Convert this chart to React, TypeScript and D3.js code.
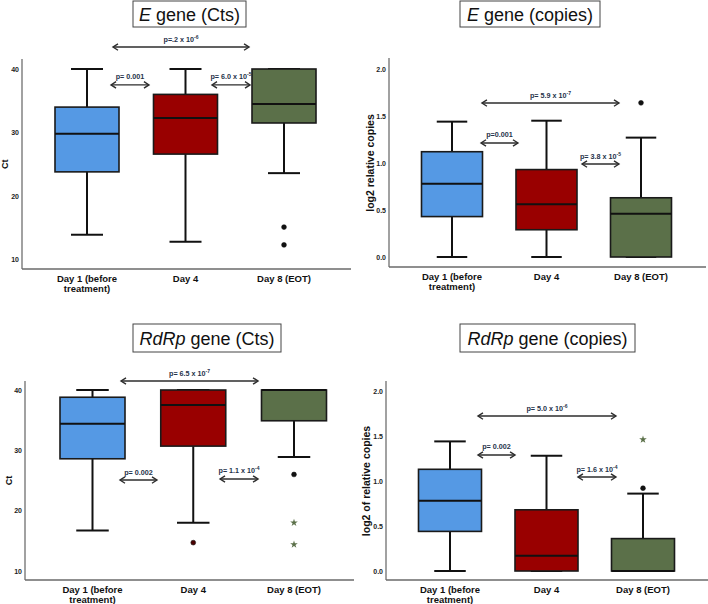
import React from "react";
import * as d3 from "d3";

// ---------- data ----------
const categories = ["Day 1 (before treatment)", "Day 4", "Day 8 (EOT)"];
const categoryLines = [["Day 1 (before", "treatment)"], ["Day 4"], ["Day 8 (EOT)"]];
const boxColors = ["#5599e4", "#990000", "#5b7049"];

// [min whisker, Q1, median, Q3, max whisker]
const eCtsBoxes = [
  [13.9, 23.8, 29.8, 34.0, 40.0],
  [12.8, 26.6, 32.3, 36.0, 40.0],
  [23.6, 31.5, 34.5, 40.0, 40.0],
];
const eCtsOutliers = [[], [], [15.1, 12.3]];
const eCtsStars: number[][] = [[], [], []];

const eCopiesBoxes = [
  [0.0, 0.43, 0.78, 1.12, 1.44],
  [0.0, 0.29, 0.56, 0.93, 1.45],
  [0.0, 0.0, 0.46, 0.63, 1.27],
];
const eCopiesOutliers = [[], [], [1.64]];
const eCopiesStars: number[][] = [[], [], []];

const rdrpCtsBoxes = [
  [16.7, 28.6, 34.4, 38.8, 40.0],
  [18.0, 30.7, 37.5, 40.0, 40.0],
  [28.9, 34.9, 40.0, 40.0, 40.0],
];
const rdrpCtsOutliers = [[], [14.7], [26.0]];
const rdrpCtsStars = [[], [], [18.0, 14.4]];

const rdrpCopiesBoxes = [
  [0.0, 0.44, 0.78, 1.13, 1.44],
  [0.0, 0.0, 0.17, 0.68, 1.28],
  [0.0, 0.0, 0.0, 0.36, 0.86],
];
const rdrpCopiesOutliers = [[], [], [0.92]];
const rdrpCopiesStars = [[], [], [1.46]];

const ctTicks = [10, 20, 30, 40];
const copiesTicks = [0, 0.5, 1.0, 1.5, 2.0];

// significance annotations: x1/x2 in category-index units, y in data units
const eCtsSig = [
  { x1: 0.264, x2: 1.645, y: 43.46, p: "p=.2 x 10", exp: "-6" },
  { x1: 0.244, x2: 0.629, y: 37.5, p: "p= 0.001", exp: "" },
  { x1: 1.269, x2: 1.655, y: 37.5, p: "p= 6.0 x 10", exp: "-5" },
];
const eCopiesSig = [
  { x1: 0.317, x2: 1.767, y: 1.638, p: "p= 5.9 x 10", exp: "-7" },
  { x1: 0.307, x2: 0.698, y: 1.213, p: "p=0.001", exp: "" },
  { x1: 1.376, x2: 1.767, y: 0.989, p: "p= 3.8 x 10", exp: "-5" },
];
const rdrpCtsSig = [
  { x1: 0.283, x2: 1.643, y: 41.49, p: "p= 6.5 x 10", exp: "-7" },
  { x1: 0.273, x2: 0.64, y: 25.08, p: "p= 0.002", exp: "" },
  { x1: 1.266, x2: 1.643, y: 25.25, p: "p= 1.1 x 10", exp: "-4" },
];
const rdrpCopiesSig = [
  { x1: 0.29, x2: 1.72, y: 1.722, p: "p= 5.0 x 10", exp: "-6" },
  { x1: 0.29, x2: 0.674, y: 1.289, p: "p= 0.002", exp: "" },
  { x1: 1.326, x2: 1.72, y: 1.044, p: "p= 1.6 x 10", exp: "-4" },
];

// ---------- layout ----------
const FONT = "'Liberation Sans', Arial, Helvetica, sans-serif";

type Sig = { x1: number; x2: number; y: number; p: string; exp: string };
type PanelCfg = {
  titleItalic: string;
  titleRest: string;
  titleBox: [number, number, number, number];
  axisX: number;
  axisTop: number;
  axisBottom: number;
  axisRight: number;
  yDomain: [number, number];
  yRange: [number, number];
  centers: [number, number];
  boxWidth: number;
  yLabel: string;
  yLabelX: number;
  ticks: number[];
  fmt: (v: number) => string;
  boxes: number[][];
  outliers: number[][];
  stars: number[][];
  sig: Sig[];
  outlierFill: string[];
};

const panels: PanelCfg[] = [
  {
    titleItalic: "E",
    titleRest: " gene (Cts)",
    titleBox: [133, 1, 113, 26],
    axisX: 22,
    axisTop: 59,
    axisBottom: 269,
    axisRight: 351,
    yDomain: [10, 40],
    yRange: [259.5, 69],
    centers: [87, 284],
    boxWidth: 64,
    yLabel: "Ct",
    yLabelX: 8,
    ticks: ctTicks,
    fmt: d3.format("d"),
    boxes: eCtsBoxes,
    outliers: eCtsOutliers,
    stars: eCtsStars,
    sig: eCtsSig,
    outlierFill: ["#111", "#111", "#111"],
  },
  {
    titleItalic: "E",
    titleRest: " gene (copies)",
    titleBox: [460, 1, 140, 26],
    axisX: 389,
    axisTop: 58,
    axisBottom: 267,
    axisRight: 706,
    yDomain: [0, 2],
    yRange: [257, 69],
    centers: [452, 641],
    boxWidth: 61,
    yLabel: "log2 relative copies",
    yLabelX: 374,
    ticks: copiesTicks,
    fmt: d3.format(".1f"),
    boxes: eCopiesBoxes,
    outliers: eCopiesOutliers,
    stars: eCopiesStars,
    sig: eCopiesSig,
    outlierFill: ["#111", "#111", "#111"],
  },
  {
    titleItalic: "RdRp",
    titleRest: " gene (Cts)",
    titleBox: [133, 324, 148, 28],
    axisX: 25,
    axisTop: 381,
    axisBottom: 580,
    axisRight: 354,
    yDomain: [10, 40],
    yRange: [571, 390],
    centers: [92.5, 294],
    boxWidth: 65,
    yLabel: "Ct",
    yLabelX: 12,
    ticks: ctTicks,
    fmt: d3.format("d"),
    boxes: rdrpCtsBoxes,
    outliers: rdrpCtsOutliers,
    stars: rdrpCtsStars,
    sig: rdrpCtsSig,
    outlierFill: ["#111", "#4a0000", "#111"],
  },
  {
    titleItalic: "RdRp",
    titleRest: " gene (copies)",
    titleBox: [460, 324, 175, 28],
    axisX: 386,
    axisTop: 381,
    axisBottom: 580,
    axisRight: 708,
    yDomain: [0, 2],
    yRange: [571, 391],
    centers: [450, 643],
    boxWidth: 63,
    yLabel: "log2 of relative copies",
    yLabelX: 370,
    ticks: copiesTicks,
    fmt: d3.format(".1f"),
    boxes: rdrpCopiesBoxes,
    outliers: rdrpCopiesOutliers,
    stars: rdrpCopiesStars,
    sig: rdrpCopiesSig,
    outlierFill: ["#111", "#111", "#111"],
  },
];

const starPath = d3.symbol().type(d3.symbolStar).size(18)() as string;

function Arrow({ x1, x2, y }: { x1: number; x2: number; y: number }) {
  const h = 5;
  const v = 3.2;
  return (
    <g stroke="#2d2d2d" strokeWidth={1.4} fill="none">
      <line x1={x1} y1={y} x2={x2} y2={y} />
      <path d={`M${x1 + h},${y - v} L${x1},${y} L${x1 + h},${y + v}`} />
      <path d={`M${x2 - h},${y - v} L${x2},${y} L${x2 - h},${y + v}`} />
    </g>
  );
}

function Panel({ cfg }: { cfg: PanelCfg }) {
  const y = d3.scaleLinear().domain(cfg.yDomain).range(cfg.yRange);
  const xp = d3.scalePoint<string>().domain(categories).range(cfg.centers);
  const xi = d3.scaleLinear().domain([0, categories.length - 1]).range(cfg.centers);
  const bw = cfg.boxWidth;
  const cw = bw / 2;
  const [tx, ty, tw, th] = cfg.titleBox;
  const yMid = (cfg.yRange[0] + cfg.yRange[1]) / 2;
  return (
    <g>
      {/* title */}
      <rect x={tx} y={ty} width={tw} height={th} fill="#fff" stroke="#444" strokeWidth={1} />
      <text
        x={tx + tw / 2}
        y={ty + th / 2 + 6.5}
        textAnchor="middle"
        fontFamily={FONT}
        fontSize={18}
        fill="#111"
      >
        <tspan fontStyle="italic">{cfg.titleItalic}</tspan>
        <tspan>{cfg.titleRest}</tspan>
      </text>

      {/* axes */}
      <line x1={cfg.axisX} y1={cfg.axisTop} x2={cfg.axisX} y2={cfg.axisBottom} stroke="#8a8a8a" strokeWidth={1.6} />
      <line x1={cfg.axisX} y1={cfg.axisBottom} x2={cfg.axisRight} y2={cfg.axisBottom} stroke="#6a6a6a" strokeWidth={1.6} />
      {cfg.ticks.map((t) => (
        <text
          key={t}
          x={cfg.axisX - 3}
          y={y(t) + 2.5}
          textAnchor="end"
          fontFamily={FONT}
          fontSize={7}
          fontWeight="bold"
          fill="#222"
        >
          {cfg.fmt(t)}
        </text>
      ))}
      <text
        transform={`translate(${cfg.yLabelX},${yMid}) rotate(-90)`}
        textAnchor="middle"
        fontFamily={FONT}
        fontSize={cfg.yLabel === "Ct" ? 9 : 10.5}
        fontWeight="bold"
        fill="#111"
      >
        {cfg.yLabel}
      </text>

      {/* category labels */}
      {categories.map((c, i) => (
        <text
          key={c}
          x={xp(c)}
          y={cfg.axisBottom + 13}
          textAnchor="middle"
          fontFamily={FONT}
          fontSize={9.5}
          fontWeight="bold"
          fill="#111"
        >
          {categoryLines[i].map((ln, j) => (
            <tspan key={j} x={xp(c)} dy={j === 0 ? 0 : 10}>
              {ln}
            </tspan>
          ))}
        </text>
      ))}

      {/* boxes */}
      {categories.map((c, i) => {
        const [mn, q1, md, q3, mx] = cfg.boxes[i];
        const cx = xp(c) as number;
        return (
          <g key={c}>
            <line x1={cx} y1={y(mx)} x2={cx} y2={y(q3)} stroke="#111" strokeWidth={2} />
            <line x1={cx} y1={y(q1)} x2={cx} y2={y(mn)} stroke="#111" strokeWidth={2} />
            <line x1={cx - cw / 2} y1={y(mx)} x2={cx + cw / 2} y2={y(mx)} stroke="#111" strokeWidth={2} />
            <line x1={cx - cw / 2} y1={y(mn)} x2={cx + cw / 2} y2={y(mn)} stroke="#111" strokeWidth={2} />
            <rect
              x={cx - bw / 2}
              y={y(q3)}
              width={bw}
              height={y(q1) - y(q3)}
              fill={boxColors[i]}
              stroke="#1a1a1a"
              strokeWidth={1.6}
            />
            <line x1={cx - bw / 2} y1={y(md)} x2={cx + bw / 2} y2={y(md)} stroke="#111" strokeWidth={2} />
            {cfg.outliers[i].map((v, k) => (
              <circle key={k} cx={cx} cy={y(v)} r={2.4} fill={cfg.outlierFill[i]} stroke="#111" strokeWidth={0.6} />
            ))}
            {cfg.stars[i].map((v, k) => (
              <path key={k} d={starPath} transform={`translate(${cx},${y(v)})`} fill="#5b7049" />
            ))}
          </g>
        );
      })}

      {/* significance */}
      {cfg.sig.map((s, k) => {
        const x1 = xi(s.x1);
        const x2 = xi(s.x2);
        const yy = y(s.y);
        return (
          <g key={k}>
            <Arrow x1={x1} x2={x2} y={yy} />
            <text
              x={(x1 + x2) / 2}
              y={yy - 5.5}
              textAnchor="middle"
              fontFamily={FONT}
              fontSize={7.2}
              fontWeight="bold"
              fill="#25324a"
            >
              {s.p}
              {s.exp ? (
                <tspan fontSize={5} dy={-3}>
                  {s.exp}
                </tspan>
              ) : null}
            </text>
          </g>
        );
      })}
    </g>
  );
}

export default function App() {
  return (
    <svg
      width={708}
      height={604}
      viewBox="0 0 708 604"
      style={{ position: "absolute", left: 0, top: 0, background: "#fff" }}
    >
      <rect x={0} y={0} width={708} height={604} fill="#fff" />
      {panels.map((p, i) => (
        <Panel key={i} cfg={p} />
      ))}
    </svg>
  );
}
